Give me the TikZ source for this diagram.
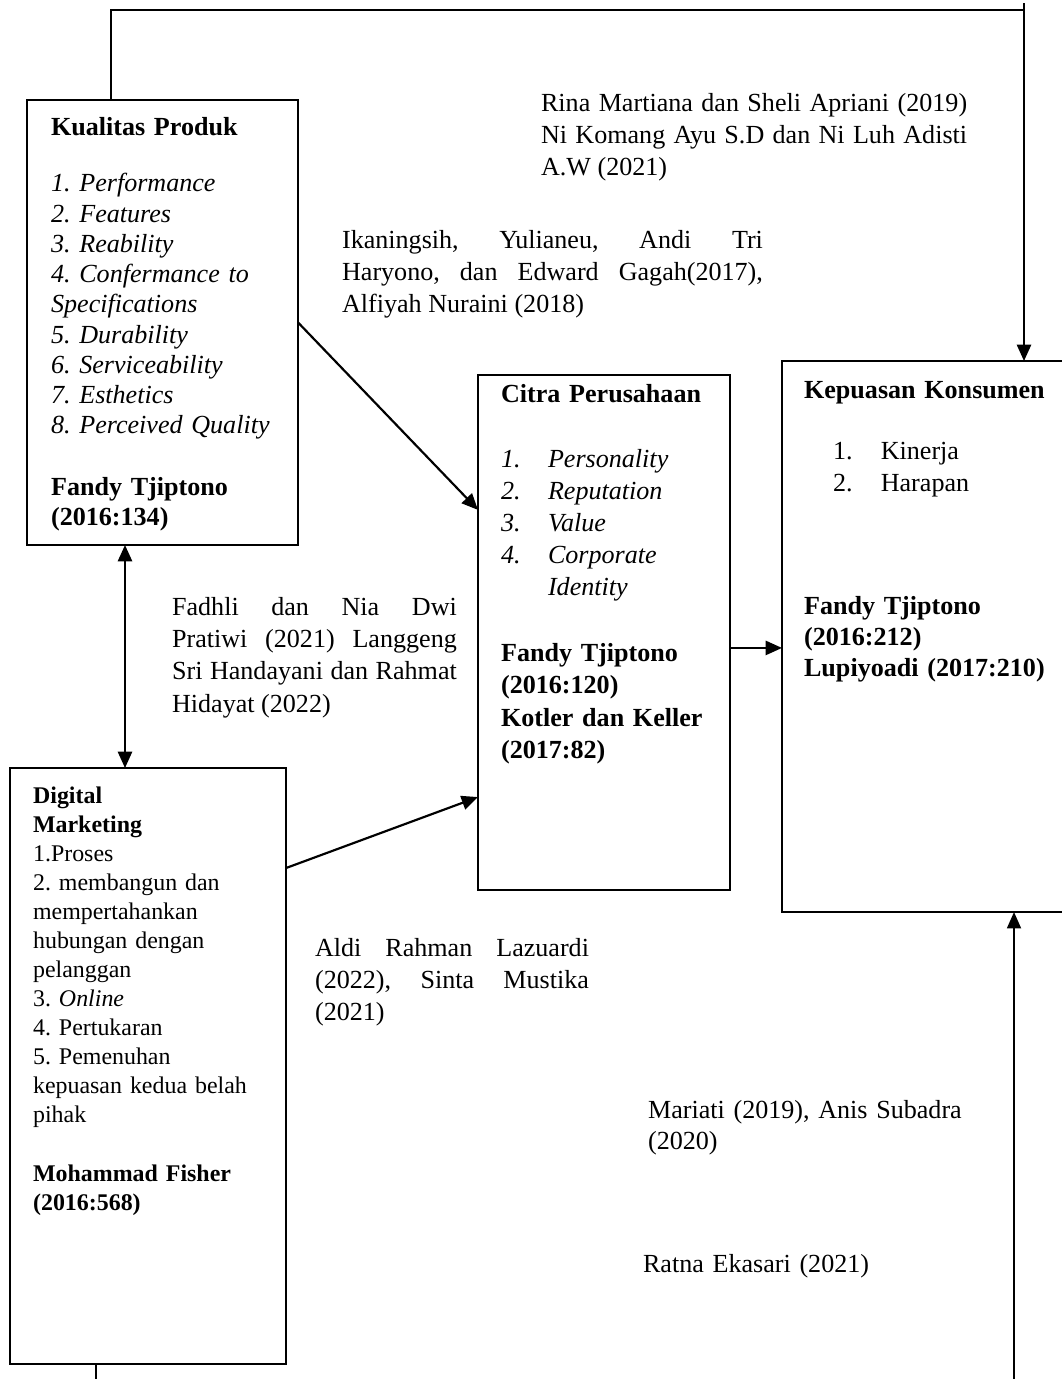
\documentclass[tikz,border=0pt]{standalone}
\usepackage{fontspec}
\setmainfont{Liberation Serif}
\usepackage{tikz}
\usetikzlibrary{arrows.meta}
\frenchspacing

\begin{document}
\begin{tikzpicture}[x=0.46pt,y=-0.46pt,line width=1pt,
  box/.style={draw,line width=1pt,anchor=north west,inner sep=0pt,outer sep=0pt},
  boxtext/.style={anchor=base west,inner sep=0pt,align=left},
  ref/.style={anchor=base west,inner sep=0pt,align=justify,
    font=\fontsize{12}{14.9}\selectfont,
    execute at begin node={\tolerance=10000\hyphenpenalty=10000\relax}},
  tip/.style={-{Triangle[length=7.5pt,width=6.5pt]}},
  bitip/.style={{Triangle[length=7.5pt,width=6.5pt]}-{Triangle[length=7.5pt,width=6.5pt]}}]
\useasboundingbox (0,0) rectangle (1062,1379);
\node[box,minimum width=124.7pt,minimum height=204.7pt] (kp) at (27,100) {};
\node[box,minimum width=115.9pt,minimum height=236.9pt] (cp) at (478,375) {};
\node[box,minimum width=134.8pt,minimum height=253.5pt] (kk) at (782,361) {};
\node[box,minimum width=127pt,minimum height=274.2pt] (dm) at (10,768) {};
\node[boxtext,text width=118pt,font=\fontsize{12}{13.9}\selectfont] (kpText) at (50,135) {\textbf{Kualitas Produk}\\[12.3pt]
  \textit{1. Performance}\\
  \textit{2. Features}\\
  \textit{3. Reability}\\
  \textit{4. Confermance to}\\
  \textit{Specifications}\\
  \textit{5. Durability}\\
  \textit{6. Serviceability}\\
  \textit{7. Esthetics}\\
  \textit{8. Perceived Quality}\\[14.6pt]
  \textbf{Fandy Tjiptono}\\
  \textbf{(2016:134)}};
\node[boxtext,text width=108pt,font=\fontsize{12}{14.8}\selectfont] (cpText) at (500,402) {\textbf{Citra Perusahaan}\\[15.1pt]
  \textit{\makebox[21.6pt][l]{1.}Personality}\\
  \textit{\makebox[21.6pt][l]{2.}Reputation}\\
  \textit{\makebox[21.6pt][l]{3.}Value}\\
  \textit{\makebox[21.6pt][l]{4.}Corporate}\\
  \textit{\hspace*{21.6pt}Identity}\\[15.6pt]
  \textbf{Fandy Tjiptono}\\
  \textbf{(2016:120)}\\
  \textbf{Kotler dan Keller}\\
  \textbf{(2017:82)}};
\node[boxtext,text width=125pt,font=\fontsize{12}{14.2}\selectfont] (kkText) at (803,398) {\textbf{Kepuasan Konsumen}\\[14.3pt]
  \hspace*{13.3pt}\makebox[22pt][l]{1.}Kinerja\\[0.5pt]
  \hspace*{13.3pt}\makebox[22pt][l]{2.}Harapan\\[42.4pt]
  \textbf{Fandy Tjiptono}\\
  \textbf{(2016:212)}\\
  \textbf{Lupiyoadi (2017:210)}};
\node[boxtext,text width=118pt,font=\fontsize{11}{13.34}\selectfont] (dmText) at (32,803) {\textbf{Digital}\\
  \textbf{Marketing}\\
  1.Proses\\
  2. membangun dan\\
  mempertahankan\\
  hubungan dengan\\
  pelanggan\\
  3. \textit{Online}\\
  4. Pertukaran\\
  5. Pemenuhan\\
  kepuasan kedua belah\\
  pihak\\[13.8pt]
  \textbf{Mohammad Fisher}\\
  \textbf{(2016:568)}};
\node[ref,text width=196pt] (rina) at (540,111) {Rina Martiana dan Sheli Apriani (2019)\linebreak Ni Komang Ayu S.D dan Ni Luh Adisti\linebreak A.W (2021)};
\node[ref,text width=193.6pt] (ika) at (341,248) {Ikaningsih, Yulianeu, Andi Tri\linebreak Haryono, dan Edward Gagah(2017),\linebreak Alfiyah Nuraini (2018)};
\node[ref,text width=131pt] (fadhli) at (171,615) {Fadhli dan Nia Dwi\linebreak Pratiwi (2021) Langgeng\linebreak Sri Handayani dan Rahmat\linebreak Hidayat (2022)};
\node[ref,text width=126pt] (aldi) at (314,956) {Aldi Rahman Lazuardi\linebreak (2022), Sinta Mustika\linebreak (2021)};
\node[boxtext,text width=150pt,font=\fontsize{12}{14.7}\selectfont] (mariati) at (647,1118) {Mariati (2019), Anis Subadra\\(2020)};
\node[boxtext,text width=120pt,font=\fontsize{12}{14.7}\selectfont] (ratna) at (642,1272) {Ratna Ekasari (2021)};
\coordinate (tl) at (111,10);
\coordinate (tr) at (1024,10);
\coordinate (trtop) at (1024,3);
\coordinate (kpdm) at (125,650);
\coordinate (dmfoot) at (96,1379);
\coordinate (kkfoot) at (1014,1379);
\draw (kp.north -| tl) -- (tl) -- (tr);
\draw[tip] (trtop) -- (kk.north -| tr);
\draw[tip] (kp.east) -- ([yshift=56.4pt]cp.west);
\draw[bitip] (kp.south -| kpdm) -- (dm.north -| kpdm);
\draw[tip] ([yshift=91.1pt]dm.east) -- ([yshift=-75.7pt]cp.west);
\draw[tip] ([yshift=-7.1pt]cp.east) -- ([yshift=-7.1pt]cp.east -| kk.west);
\draw (dm.south -| dmfoot) -- (dmfoot);
\draw[tip,line width=0.6pt] (kkfoot) -- (kk.south -| kkfoot);
\end{tikzpicture}
\end{document}
